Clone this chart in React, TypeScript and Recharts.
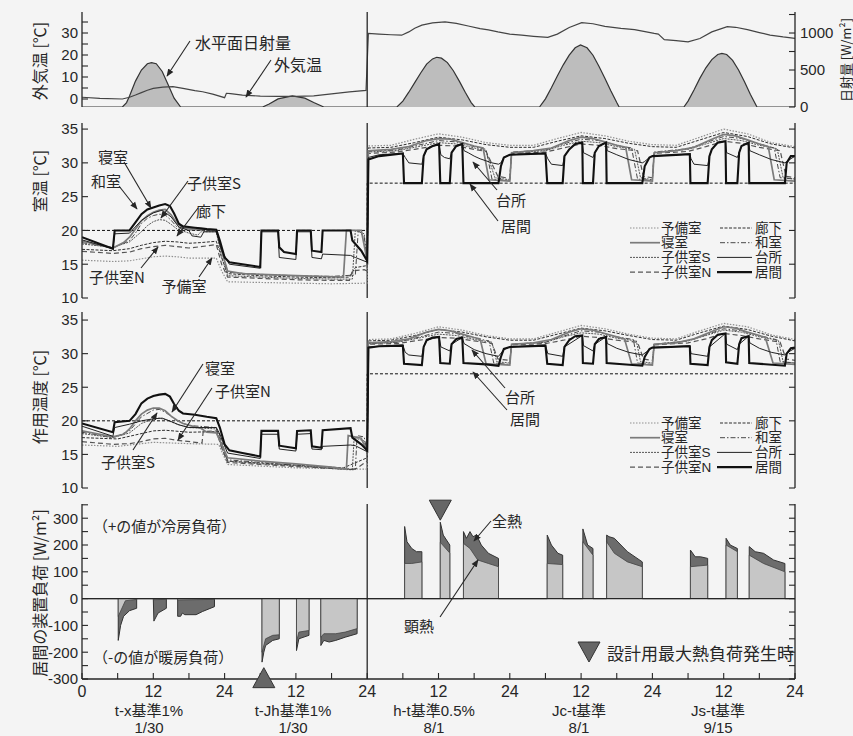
import React from 'react';
import { ComposedChart, Line, Area, XAxis, YAxis, ReferenceLine, ReferenceDot } from 'recharts';

type Pt = [number, number];

// ---------- axis ticks & labels ----------
const hourTicks = [0, 6, 12, 18, 24, 30, 36, 42, 48, 54, 60, 66, 72, 78, 84, 90, 96, 102, 108, 114, 120];
const hourTickLabels = ['0', '', '12', '', '24', '', '12', '', '24', '', '12', '', '24', '', '12', '', '24', '', '12', '', '24'];
const dayNames = ['t-x基準1%', 't-Jh基準1%', 'h-t基準0.5%', 'Jc-t基準', 'Js-t基準'];
const dayDates = ['1/30', '1/30', '8/1', '8/1', '9/15'];

const p1TempTicks = [0, 5, 10, 15, 20, 25, 30, 35];
const p1TempLabels = ['0', '', '10', '', '20', '', '30', ''];
const p1SolarTicks = [0, 250, 500, 750, 1000, 1250];
const p1SolarLabels = ['0', '', '500', '', '1000', ''];
const roomTicks = [10, 15, 20, 25, 30, 35];
const roomTickLabels = ['10', '15', '20', '25', '30', '35'];
const loadTicks = [-300, -250, -200, -150, -100, -50, 0, 50, 100, 150, 200, 250, 300, 350];
const loadTickLabels = ['-300', '', '-200', '', '-100', '', '0', '', '100', '', '200', '', '300', ''];

// ---------- panel 1 : outdoor temperature [°C] and horizontal solar radiation [W/m2] ----------
const outdoorTemp: Pt[] = [[0, 0.8], [3, 0.3], [6.8, 0.0], [8, 0.8], [9, 1.8], [10, 2.9], [11, 4], [12, 4.8], [13.6, 5.4], [15.3, 5.6], [17, 4.8], [19, 3.8], [20.3, 3.3], [22, 2.2], [24, 0.6], [24.3, 2.6], [25, 2.4], [27, 1.8], [30, 1.3], [33, 1.2], [36, 1.2], [39, 1.4], [42, 2.3], [45, 3.2], [47.8, 3.9],
  [48.2, 29.8], [50, 29.5], [52, 29.2], [53.8, 29], [55, 30.5], [56, 32.2], [57.2, 33.6], [59, 34.6], [61.1, 35.1], [63, 34.4], [65, 33.2], [67, 32], [68.4, 31.4], [70, 30.5], [72, 29.5], [74, 29], [76, 28.5], [78.4, 28], [80, 29.5], [82, 32.5], [84.1, 34.7], [86, 34.2], [88, 33], [90.7, 32.1], [93, 31.5], [96.3, 29.8], [97, 29.5], [98, 27], [100, 26.5], [102, 26], [104, 27.5], [106, 30.5], [108.6, 32.9], [110, 32.6], [112, 31.5], [114, 30.2], [115.8, 29], [118, 28.2], [120, 27.6]];
const solarRad: Pt[] = [[0, 0], [6.8, 0], [7.5, 60], [8, 150], [9, 350], [10, 500], [11, 585], [11.7, 600], [12.5, 585], [13.5, 480], [14.5, 300], [15.5, 120], [16.6, 0],
  [30.4, 0], [31.5, 40], [33, 110], [35.4, 150], [37.5, 120], [39, 60], [40.7, 0],
  [53, 0], [54, 80], [55, 200], [56, 330], [57, 460], [58, 580], [59, 650], [59.7, 672], [60.5, 660], [61.5, 600], [62.5, 490], [63.5, 350], [64.5, 200], [65.5, 60], [66.1, 0],
  [77, 0], [78, 110], [79, 260], [80, 420], [81, 570], [82, 700], [83, 800], [83.9, 838], [85, 800], [86, 700], [87, 550], [88, 390], [89, 220], [90, 60], [90.4, 0],
  [101.3, 0], [102, 80], [103, 230], [104, 390], [105, 530], [106, 640], [107, 710], [107.7, 725], [108.5, 710], [109.5, 630], [110.5, 500], [111.5, 340], [112.5, 170], [113.6, 0], [120, 0]];

// ---------- panel 2 : room air temperature [°C] ----------
const setPoint: Pt[] = [[0, 20], [48, 20], [48, 27], [120, 27]];
const airIma: Pt[] = [[0, 19.0], [5.2, 17.3], [5.5, 20], [8, 20], [9, 21.2], [10, 22.4], [11, 23.1], [12, 23.4], [13, 23.7], [14, 23.9], [14.8, 23.6], [15.5, 22.5], [16.3, 21], [17, 20.6], [18, 20.5], [19, 20.4], [20, 20.3], [21, 20.2], [22.6, 20.1], [23.2, 18.5], [24, 16], [24.8, 15.3], [27, 15], [30, 14.6], [30.2, 20], [33, 20], [33.2, 17.5], [34, 16.8], [36, 16.5], [36.2, 20], [38.5, 20], [38.7, 17], [40.3, 16.8], [40.5, 20], [45.2, 20], [45.5, 18.5], [47, 17], [48, 15.5],
  [48.2, 30.5], [50, 31], [54, 31.4], [54.2, 27], [57.2, 27], [57.5, 31], [58, 32], [59, 32.5], [60.1, 32.8], [60.3, 27], [61.9, 27], [62.2, 31.5], [63, 32.5], [64, 32.8], [64.2, 27], [70.1, 27], [70.5, 29.5], [71, 30.8], [72, 31.2], [78, 31.4], [78.3, 27], [80.9, 27], [81.2, 31], [82, 32], [83, 32.8], [84.2, 33], [84.3, 27], [86, 27], [86.3, 31.5], [87, 32.5], [88.2, 33], [88.3, 27], [94.3, 27], [94.7, 29.5], [95.5, 30.8], [96, 31], [102.3, 31.3], [102.4, 27], [105.3, 27], [105.6, 31], [106, 32], [107, 33], [108.3, 33.2], [108.4, 27], [110.3, 27], [110.6, 31.5], [111, 32.5], [112.2, 33], [112.3, 27], [118.3, 27], [118.6, 30], [119.3, 31], [120, 31]];
const airDai: Pt[] = [[0, 18.6], [5.2, 17.3], [5.5, 19.5], [8, 19.6], [10, 21.5], [12, 22.6], [13.5, 23], [15, 22], [16.3, 20.5], [18, 20], [18.5, 19.2], [20, 19], [20.5, 19.8], [22.6, 19.8], [23.5, 17], [24.8, 15], [30, 14.4], [30.2, 19.8], [33, 19.8], [33.2, 16], [36, 15.7], [36.2, 19.8], [38.5, 19.8], [38.7, 16], [40.3, 15.8], [40.5, 16.5], [45.2, 16.3], [46, 16], [48, 15.3],
  [48.2, 30.8], [50, 31.2], [54, 31.4], [54.4, 30.8], [55, 30], [57.2, 29.8], [57.5, 31], [58, 32], [59, 32.5], [60.1, 32.6], [60.4, 31.2], [61, 30.8], [61.9, 30.6], [62.2, 31.5], [63, 32.5], [64, 32.8], [64.3, 31.8], [65, 31.5], [66, 31], [67, 30.6], [68, 30.3], [69, 30], [70.1, 29.8], [70.5, 30], [71, 30.8], [72, 31.2], [78, 31.4], [78.4, 30.6], [79, 29.8], [80.9, 29.6], [81.2, 31], [82, 32], [83, 32.8], [84.2, 33], [84.4, 31.5], [86, 30.8], [86.3, 31.5], [87, 32.5], [88.2, 33], [88.4, 31.8], [90, 31.2], [92, 30.5], [94.3, 30], [94.7, 30.2], [95.5, 30.8], [96, 31], [102.3, 31.3], [102.5, 30.6], [103, 29.8], [105.3, 29.6], [105.6, 31], [106, 32], [107, 33], [108.3, 33.2], [108.5, 31.5], [110.3, 30.8], [110.6, 31.5], [111, 32.5], [112.2, 33], [112.4, 31.8], [114, 31.2], [116, 30.5], [118.3, 30], [118.6, 30.2], [120, 31]];
const airShin: Pt[] = [[0, 18.4], [5.2, 17.4], [7, 18.2], [8, 19], [9, 20.2], [10, 21.4], [11, 22.2], [12, 22.7], [13, 23], [14, 23.1], [15, 22.3], [16, 21], [17, 20.4], [19, 20.2], [22.6, 20.1], [23.5, 17], [24.5, 14], [27, 13.6], [36, 13.3], [44, 13.1], [44.5, 20], [47, 20], [48, 15.5],
  [48.2, 31.8], [52, 32], [55, 32.4], [58, 33.3], [60, 33.6], [62, 33.5], [64, 33], [66, 32.5], [67.5, 32.2], [68.5, 27.5], [72, 27.3], [72.3, 31.5], [76, 31.8], [79, 32.2], [82, 33.3], [84, 33.8], [86, 33.6], [88, 33.1], [90, 32.6], [91.5, 32.3], [92.5, 27.5], [96, 27.3], [96.3, 31.5], [100, 31.8], [103, 32.3], [106, 33.5], [108, 34.2], [110, 34], [112, 33.4], [114, 32.8], [115.5, 32.4], [116.5, 27.5], [120, 27.3]];
const airWa: Pt[] = [[0, 18.2], [5.2, 17.4], [8, 18.5], [9, 19.6], [10, 21], [11, 21.8], [12, 22.2], [13, 22.4], [14, 22.3], [15, 21.5], [16, 20.5], [17, 20.1], [22.6, 20], [23.5, 17], [24.5, 13.8], [30, 13.5], [36, 13.3], [42, 13.2], [46, 13.4], [46.5, 20], [47.5, 19], [48, 15.2],
  [48.2, 31.7], [53, 31.9], [56, 32.5], [60, 33.3], [63, 33.1], [66, 32.4], [68, 32], [69, 27.6], [72, 27.4], [72.3, 31.6], [78, 31.9], [81, 32.8], [84, 33.5], [87, 33.3], [90, 32.6], [92.5, 32.2], [93.5, 27.6], [96, 27.4], [96.3, 31.6], [102, 32.1], [105, 33], [108, 33.9], [111, 33.6], [114, 32.8], [116.5, 32.2], [117.5, 27.8], [120, 27.6]];
const airKS: Pt[] = [[0, 18], [5.2, 17.5], [8, 18.3], [10, 19.8], [11, 20.7], [12, 21.3], [13, 21.6], [14, 21.5], [15, 20.9], [16, 20.2], [18, 19.6], [19.5, 19.3], [20, 19.8], [22.6, 19.8], [23.5, 16], [24.5, 13.3], [30, 13.1], [36, 12.9], [42, 12.8], [45.5, 12.8], [46, 20], [47.5, 19.5], [48, 15],
  [48.2, 31.6], [53, 31.8], [56, 32.3], [60, 33], [63, 32.8], [66, 32.2], [68, 31.8], [69.5, 27.8], [72, 27.5], [72.3, 31.5], [78, 31.8], [81, 32.6], [84, 33.2], [87, 33], [90, 32.4], [93, 32], [94, 27.8], [96, 27.5], [96.3, 31.5], [102, 32], [105, 32.8], [108, 33.6], [111, 33.3], [114, 32.6], [117, 32.1], [118, 27.8], [120, 27.6]];
const airKN: Pt[] = [[0, 16.9], [5.2, 16.6], [8, 16.8], [10, 17.3], [12, 17.6], [14, 17.8], [16, 17.6], [18, 17.4], [20, 17.6], [22.6, 17.9], [23.5, 15], [24.5, 13.1], [30, 12.9], [36, 12.7], [42, 12.6], [45, 12.6], [45.5, 14], [47.5, 14.2], [48, 14],
  [48.2, 31.4], [53, 31.6], [56, 32], [60, 32.6], [63, 32.5], [66, 32], [68, 31.7], [70, 28], [72, 27.7], [72.3, 31.4], [78, 31.6], [81, 32.2], [84, 32.8], [87, 32.6], [90, 32.1], [93.5, 31.8], [94.5, 28], [96, 27.8], [96.3, 31.4], [102, 31.7], [105, 32.4], [108, 33.2], [111, 32.9], [114, 32.3], [117.5, 31.8], [118.5, 28], [120, 27.8]];
const airYobi: Pt[] = [[0, 15.6], [5.2, 15.4], [8, 15.5], [10, 15.8], [12, 16.1], [14, 16.2], [16, 16.1], [18, 15.9], [22.6, 15.9], [23.5, 14], [24.5, 12.4], [30, 12.3], [36, 12.2], [42, 12.1], [48, 12.2],
  [48.2, 32.5], [52, 32.6], [56, 33.5], [60, 34.3], [64, 33.8], [68, 33], [72, 32.6], [76, 32.6], [80, 33.6], [84, 34.5], [88, 34], [92, 33.2], [96, 32.7], [100, 32.6], [104, 33.8], [108, 35], [112, 34.3], [116, 33], [120, 32.4]];
const airRouka: Pt[] = [[0, 17.2], [5.2, 17], [8, 17.3], [10, 17.8], [12, 18.2], [14, 18.4], [16, 18.3], [18, 18.1], [20, 18.2], [22.6, 18.4], [23.5, 16], [24.5, 13.6], [30, 13.3], [36, 13.1], [42, 13], [45, 13.1], [46, 14.5], [48, 14.8],
  [48.2, 32.2], [52, 32.3], [56, 33], [60, 33.8], [64, 33.4], [68, 32.7], [72, 32.3], [76, 32.3], [80, 33.2], [84, 34], [88, 33.6], [92, 32.9], [96, 32.4], [100, 32.3], [104, 33.4], [108, 34.5], [112, 33.9], [116, 32.8], [120, 32.2]];

// ---------- panel 3 : operative temperature [°C] ----------
const opIma: Pt[] = [[0, 19.6], [5.2, 18.3], [5.5, 19.8], [8, 20], [9, 21], [10, 22.6], [11, 23.3], [12, 23.7], [13, 23.9], [14, 24], [14.8, 23.6], [15.5, 22.5], [16.3, 21.5], [17, 21.1], [19, 20.9], [21, 20.6], [22.6, 20.4], [23.2, 19], [24, 16.5], [24.8, 15.6], [27, 15.2], [30, 14.7], [30.2, 18.5], [33, 18.5], [33.2, 16.3], [36, 15.9], [36.2, 18.5], [38.5, 18.6], [38.7, 16.2], [40.3, 16], [40.5, 18.6], [45.2, 18.9], [45.5, 17.5], [47, 16.5], [48, 15.6],
  [48.2, 30.9], [50, 31.1], [54, 31.2], [54.2, 28.5], [57.2, 28.3], [57.5, 31], [58, 32], [59, 32.4], [60.1, 32.5], [60.3, 28.6], [61.9, 28.5], [62.2, 31.4], [63, 32.2], [64, 32.4], [64.2, 28.6], [68, 28.4], [70.1, 28.2], [70.5, 29.5], [71, 30.7], [72, 31], [78, 31.2], [78.3, 28.5], [80.9, 28.3], [81.2, 31], [82, 32], [83, 32.6], [84.2, 32.7], [84.3, 28.6], [86, 28.5], [86.3, 31.4], [87, 32.2], [88.2, 32.5], [88.3, 28.6], [94.3, 28.2], [94.7, 29.5], [95.5, 30.7], [96, 30.9], [102.3, 31.1], [102.4, 28.5], [105.3, 28.3], [105.6, 31], [106, 32], [107, 32.8], [108.3, 33], [108.4, 28.7], [110.3, 28.5], [110.6, 31.4], [111, 32.3], [112.2, 32.6], [112.3, 28.6], [118.3, 28.2], [118.6, 30], [119.3, 30.8], [120, 30.9]];
const opDai: Pt[] = [[0, 19.2], [5.2, 17.7], [5.5, 19], [8, 19.5], [10, 20], [12, 20.3], [13.5, 20.4], [15, 19.9], [16.3, 19.4], [18, 19], [22.6, 19], [23.2, 18], [24.5, 15.2], [30, 14.4], [30.2, 18], [33, 18], [33.2, 15.8], [36, 15.5], [36.2, 18], [38.5, 18.1], [38.7, 15.8], [40.3, 15.7], [40.5, 16.2], [45.2, 16.4], [46, 16.3], [48, 15.4],
  [48.2, 31], [54, 31.3], [54.4, 30.2], [55, 29.8], [57.2, 29.6], [57.5, 31], [58, 32], [60.1, 32.5], [60.4, 31], [61.9, 30.4], [62.2, 31.4], [64, 32.4], [64.3, 31.5], [66, 30.6], [68, 30], [70.1, 29.6], [71, 30.6], [72, 31], [78, 31.3], [78.4, 30], [80.9, 29.6], [81.2, 31], [84.2, 32.7], [84.4, 31.2], [86, 30.4], [86.3, 31.4], [88.2, 32.5], [88.4, 31.5], [90, 30.8], [92, 30.2], [94.3, 29.8], [95.5, 30.6], [96, 30.9], [102.3, 31.2], [102.5, 30], [105.3, 29.6], [105.6, 31], [108.3, 33], [108.5, 31.4], [110.3, 30.6], [110.6, 31.4], [112.2, 32.6], [112.4, 31.6], [114, 30.8], [116, 30.2], [118.3, 29.8], [118.6, 30.1], [120, 30.8]];
const opShin: Pt[] = [[0, 18.5], [5.2, 17.6], [7, 18], [8, 18.8], [9, 20], [10, 21], [11, 21.6], [12, 21.9], [13, 21.9], [14, 21.5], [15, 20.7], [16, 20.1], [17, 19.6], [19, 19.1], [20, 18.9], [21, 18.3], [22.6, 18.2], [23.5, 16.5], [24.5, 14.5], [30, 14], [36, 13.6], [42, 13.1], [44.5, 12.8], [44.8, 17.8], [47, 17.4], [48, 15.3],
  [48.2, 31.6], [52, 31.8], [55, 32.2], [58, 33.2], [60, 33.6], [62, 33.4], [64, 32.9], [66, 32.4], [67, 32.2], [68, 28.5], [72, 28.3], [72.3, 31.4], [76, 31.6], [79, 32.1], [82, 33.2], [84, 33.7], [86, 33.5], [88, 33], [90, 32.5], [91.3, 32.2], [92.5, 28.5], [96, 28.3], [96.3, 31.4], [100, 31.6], [103, 32.2], [106, 33.3], [108, 34], [110, 33.8], [112, 33.2], [114, 32.7], [115, 32.4], [116.3, 28.6], [120, 28.4]];
const opWa: Pt[] = [[0, 18.3], [5.2, 17.5], [8, 18.5], [10, 20.6], [12, 21.6], [13, 21.7], [14, 21.3], [16, 20], [18, 19.3], [22.6, 19], [23.5, 16.5], [24.5, 14.2], [30, 13.8], [36, 13.4], [42, 13], [46, 12.7], [46.3, 17.8], [47.5, 17.6], [48, 15.2],
  [48.2, 31.5], [53, 31.7], [56, 32.3], [60, 33.2], [63, 33], [66, 32.3], [68.5, 31.9], [69.3, 28.6], [72, 28.4], [72.3, 31.4], [78, 31.7], [81, 32.6], [84, 33.4], [87, 33.2], [90, 32.5], [92.8, 32.1], [93.5, 28.6], [96, 28.4], [96.3, 31.4], [102, 31.9], [105, 32.8], [108, 33.7], [111, 33.4], [114, 32.7], [116.8, 32.1], [117.5, 28.8], [120, 28.6]];
const opKS: Pt[] = [[0, 18.1], [5.2, 17.5], [8, 18.2], [10, 19.6], [12, 20.3], [13, 20.4], [14, 20.2], [16, 19.5], [18, 19], [22.6, 18.8], [23.5, 16], [24.5, 14], [30, 13.6], [36, 13.3], [42, 12.9], [45.5, 12.7], [45.8, 17.5], [47.5, 17], [48, 15],
  [48.2, 31.5], [53, 31.7], [56, 32.2], [60, 32.9], [63, 32.7], [66, 32.1], [69, 31.7], [69.8, 28.8], [72, 28.6], [72.3, 31.4], [78, 31.7], [81, 32.5], [84, 33.1], [87, 32.9], [90, 32.3], [93.3, 31.9], [94, 28.8], [96, 28.6], [96.3, 31.4], [102, 31.9], [105, 32.7], [108, 33.5], [111, 33.2], [114, 32.5], [117.2, 32], [118, 28.8], [120, 28.6]];
const opKN: Pt[] = [[0, 16.9], [5.2, 16.5], [8, 16.6], [10, 16.9], [12, 17.3], [14, 17.4], [16, 17.1], [20.2, 16.7], [20.4, 18.4], [22.6, 18.5], [23.5, 16], [24.5, 13.8], [30, 13.5], [36, 13.2], [42, 12.9], [46, 12.8], [48, 14],
  [48.2, 31.4], [53, 31.5], [56, 31.9], [60, 32.4], [63, 32.3], [66, 31.9], [69, 31.5], [70, 29.2], [72, 29], [72.3, 31.3], [78, 31.5], [81, 32], [84, 32.6], [87, 32.4], [90, 32], [93.5, 31.7], [94.5, 29.2], [96, 29], [96.3, 31.3], [102, 31.6], [105, 32.2], [108, 33], [111, 32.7], [114, 32.2], [117.5, 31.7], [118.5, 29.2], [120, 29]];
const opYobi: Pt[] = [[0, 16.4], [6, 16.2], [12, 16.8], [18, 16.6], [23, 16.5], [24.5, 13.5], [36, 13], [48, 12.8],
  [48.2, 32.1], [52, 32.2], [56, 33], [60, 34], [64, 33.5], [68, 32.7], [72, 32.2], [76, 32.2], [80, 33.2], [84, 34.2], [88, 33.7], [92, 32.9], [96, 32.3], [100, 32.2], [104, 33.4], [108, 34.5], [112, 34], [116, 32.8], [120, 32.1]];
const opRouka: Pt[] = [[0, 17.5], [6, 17.3], [12, 18.5], [14, 18.6], [18, 18.3], [23, 18.4], [24.5, 14], [36, 13.4], [44, 13], [48, 14.5],
  [48.2, 31.9], [52, 32], [56, 32.7], [60, 33.6], [64, 33.2], [68, 32.5], [72, 32], [76, 32], [80, 32.9], [84, 33.8], [88, 33.4], [92, 32.7], [96, 32.1], [100, 32], [104, 33.1], [108, 34.1], [112, 33.6], [116, 32.6], [120, 31.9]];

// ---------- panel 4 : living room equipment load [W/m2] ----------
const loadTotal: Pt[] = [[0, 0], [6.1, 0], [6.1, -156], [6.5, -100], [7, -66], [8, -45], [9.2, -36], [9.2, 0], [12, 0], [12.1, -84], [12.8, -54], [14.2, -36], [14.2, 0], [16.1, 0], [16.1, -66], [16.6, -66], [16.9, -54], [17.3, -60], [19.2, -60], [20.3, -48], [22.3, -30], [22.3, 0],
  [30.3, 0], [30.3, -237], [30.6, -200], [30.9, -175], [32.1, -156], [33.2, -150], [33.2, 0], [36.1, 0], [36.1, -194], [36.5, -150], [38.2, -137], [38.2, 0], [40.2, 0], [40.2, -175], [40.7, -156], [41.6, -162], [42.7, -156], [44.3, -144], [46.3, -131], [46.3, 0],
  [54.3, 0], [54.3, 269], [54.7, 212], [55.5, 187], [56.3, 175], [57.2, 175], [57.2, 0], [60.3, 0], [60.3, 285], [60.8, 237], [61.9, 200], [61.9, 0], [64.2, 0], [64.2, 250], [64.7, 225], [65.3, 250], [65.8, 231], [66.4, 237], [67.2, 200], [68.4, 169], [70.1, 150], [70.1, 0],
  [78.3, 0], [78.3, 237], [79, 200], [80.1, 169], [80.9, 162], [80.9, 0], [84.3, 0], [84.3, 260], [85.1, 200], [86, 187], [86, 0], [88.3, 0], [88.3, 237], [88.7, 231], [89.6, 225], [90.7, 200], [91.8, 175], [94.3, 137], [94.3, 0],
  [102.4, 0], [102.4, 181], [103.2, 156], [104.1, 156], [105.3, 150], [105.3, 0], [108.4, 0], [108.4, 225], [109.1, 200], [110.3, 187], [110.3, 0], [112.3, 0], [112.3, 194], [113.3, 175], [114.7, 169], [116.4, 144], [118.3, 131], [118.3, 0], [120, 0]];
const loadSensible: Pt[] = [[0, 0], [6.1, 0], [6.1, -66], [7.3, -8], [9.2, -3], [9.2, 0], [12, 0], [12.1, -4], [14.2, -3], [14.2, 0], [16.1, 0], [16.1, -5], [22.3, -3], [22.3, 0],
  [30.3, 0], [30.3, -200], [30.9, -150], [32.1, -137], [33.2, -135], [33.2, 0], [36.1, 0], [36.1, -162], [36.5, -125], [38.2, -119], [38.2, 0], [40.2, 0], [40.2, -144], [40.7, -131], [42.7, -131], [44.3, -125], [46.3, -112], [46.3, 0],
  [54.3, 0], [54.3, 131], [55.5, 131], [57.2, 137], [57.2, 0], [60.3, 0], [60.3, 210], [61.9, 170], [61.9, 0], [64.2, 0], [64.2, 206], [65.3, 187], [66.6, 144], [68.4, 131], [70.1, 119], [70.1, 0],
  [78.3, 0], [78.3, 131], [80.9, 127], [80.9, 0], [84.3, 0], [84.3, 212], [86, 162], [86, 0], [88.3, 0], [88.3, 212], [89.6, 169], [91.8, 137], [94.3, 119], [94.3, 0],
  [102.4, 0], [102.4, 119], [105.3, 125], [105.3, 0], [108.4, 0], [108.4, 200], [110.3, 175], [110.3, 0], [112.3, 0], [112.3, 162], [114.7, 131], [118.3, 100], [118.3, 0], [120, 0]];
const peakCooling: Pt = [60.3, 330];
const peakHeating: Pt = [30.6, -295];

// ---------- styles ----------
const INK = '#262626';
const FONT_NUM = "'Liberation Sans', Arial, sans-serif";
const FONT_JP = "'Noto Sans CJK JP', 'Noto Sans', sans-serif";
const FONT_MIX = "'Liberation Sans', 'Noto Sans CJK JP', sans-serif";

type Sty = { name: string; stroke: string; width: number; dash?: string };
const S: Record<string, Sty> = {
  yobi: { name: '予備室', stroke: '#8f8f8f', width: 1.2, dash: '1.5 1.5' },
  rouka: { name: '廊下', stroke: '#2e2e2e', width: 1, dash: '3 1.5' },
  shin: { name: '寝室', stroke: '#7b7b7b', width: 1.7 },
  wa: { name: '和室', stroke: '#484848', width: 1, dash: '5 2 1.5 2' },
  kS: { name: '子供室S', stroke: '#555555', width: 1, dash: '2 1' },
  kN: { name: '子供室N', stroke: '#555555', width: 1.2, dash: '5 3' },
  dai: { name: '台所', stroke: '#222222', width: 1 },
  ima: { name: '居間', stroke: '#111111', width: 2.1 },
};
const legendRows: [Sty, Sty][] = [[S.yobi, S.rouka], [S.shin, S.wa], [S.kS, S.dai], [S.kN, S.ima]];

const airSeries: [Sty, Pt[]][] = [[S.yobi, airYobi], [S.rouka, airRouka], [S.kN, airKN], [S.kS, airKS], [S.wa, airWa], [S.shin, airShin], [S.dai, airDai], [S.ima, airIma]];
const opSeries: [Sty, Pt[]][] = [[S.yobi, opYobi], [S.rouka, opRouka], [S.kN, opKN], [S.kS, opKS], [S.wa, opWa], [S.shin, opShin], [S.dai, opDai], [S.ima, opIma]];

const rows = (pts: Pt[]) => pts.map(([h, v]) => ({ h, v }));

interface AxisCfg {
  yDomain: [number, number]; yTicks: number[]; yLabels: string[];
  rDomain: [number, number]; rTicks: number[]; rLabels: string[];
  xLabels: boolean;
}
function axes(c: AxisCfg) {
  const line = { stroke: INK, strokeWidth: 1.3 };
  const tl = { stroke: INK, strokeWidth: 1.1 };
  const tickStyle = { fontSize: 15, fill: INK, fontFamily: FONT_NUM };
  return [
    <XAxis key="xb" xAxisId="b" type="number" dataKey="h" domain={[0, 120]} allowDataOverflow ticks={hourTicks} interval={0}
      height={c.xLabels ? 40 : 0} tickSize={-6} tickMargin={13}
      tick={{ fontSize: 16, fill: INK, fontFamily: FONT_NUM }}
      tickFormatter={(v: number) => (c.xLabels ? hourTickLabels[hourTicks.indexOf(v)] ?? '' : '')}
      axisLine={line} tickLine={tl} />,
    <XAxis key="xt" xAxisId="t" orientation="top" type="number" dataKey="h" domain={[0, 120]} allowDataOverflow ticks={hourTicks} interval={0}
      height={0} tickSize={-6} tickFormatter={() => ''} axisLine={line} tickLine={tl} />,
    <YAxis key="yl" yAxisId="l" type="number" domain={c.yDomain} allowDataOverflow ticks={c.yTicks} interval={0}
      width={82} tickSize={-6} tickMargin={10} tick={tickStyle}
      tickFormatter={(v: number) => c.yLabels[c.yTicks.indexOf(v)] ?? ''} axisLine={line} tickLine={tl} />,
    <YAxis key="yr" yAxisId="r" orientation="right" type="number" domain={c.rDomain} allowDataOverflow ticks={c.rTicks} interval={0}
      width={58} tickSize={-6} tickMargin={11} tick={tickStyle}
      tickFormatter={(v: number) => c.rLabels[c.rTicks.indexOf(v)] ?? ''} axisLine={line} tickLine={tl} />,
  ];
}

function roomLines(series: [Sty, Pt[]][]) {
  return series.map(([s, pts]) => (
    <Line key={s.name} data={rows(pts)} dataKey="v" xAxisId="b" yAxisId="l" type="linear" dot={false} activeDot={false}
      stroke={s.stroke} strokeWidth={s.width} strokeDasharray={s.dash} isAnimationActive={false} />
  ));
}
function commonRefs(withSet: boolean) {
  const out: any[] = [<ReferenceLine key="div" x={48} xAxisId="b" yAxisId="l" stroke={INK} strokeWidth={1.3} />];
  if (withSet) out.push(
    <Line key="set" data={rows(setPoint)} dataKey="v" xAxisId="b" yAxisId="l" type="linear" dot={false} activeDot={false}
      stroke="#111" strokeWidth={1} strokeDasharray="3 2" isAnimationActive={false} />);
  return out;
}

const W = 853;
const M = { top: 10, bottom: 10, left: 0, right: 0 };
const box = (top: number): React.CSSProperties => ({ position: 'absolute', left: 0, top });

type Note = { t: string; x: number; y: number; a?: [number, number, number, number]; anchor?: 'start' | 'middle' | 'end'; fs?: number };
const notes: Note[] = [
  { t: '水平面日射量', x: 243, y: 42, a: [190, 41, 167, 76], fs: 16 },
  { t: '外気温', x: 298, y: 64, a: [271, 60, 246, 97], fs: 16 },
  { t: '寝室', x: 113, y: 156, a: [124, 162, 151, 208] },
  { t: '和室', x: 106, y: 180, a: [119, 186, 137, 209] },
  { t: '子供室S', x: 214, y: 182, a: [188, 181, 161, 218] },
  { t: '廊下', x: 211, y: 210, a: [198, 208, 177, 236] },
  { t: '子供室N', x: 117, y: 276, a: [141, 268, 158, 247] },
  { t: '予備室', x: 184, y: 285, a: [199, 277, 212, 258] },
  { t: '台所', x: 511, y: 199, a: [497, 190, 473, 162] },
  { t: '居間', x: 516, y: 225, a: [498, 221, 470, 184] },
  { t: '寝室', x: 220, y: 367, a: [203, 364, 172, 412] },
  { t: '子供室N', x: 243, y: 390, a: [212, 388, 178, 440] },
  { t: '子供室S', x: 128, y: 461, a: [133, 450, 157, 413] },
  { t: '台所', x: 520, y: 396, a: [505, 388, 472, 350] },
  { t: '居間', x: 525, y: 418, a: [507, 410, 473, 372] },
  { t: '（+の値が冷房負荷）', x: 93, y: 525, anchor: 'start', fs: 15 },
  { t: '（-の値が暖房負荷）', x: 93, y: 656, anchor: 'start', fs: 15 },
  { t: '全熱', x: 507, y: 520, a: [491, 521, 474, 541] },
  { t: '顕熱', x: 419, y: 625, a: [440, 617, 478, 560] },
  { t: '設計用最大熱負荷発生時', x: 607, y: 652, anchor: 'start', fs: 17 },
];
const axisTitles: { t: string; x: number; y: number; fs: number }[] = [
  { t: '外気温 [℃]', x: 39, y: 61, fs: 16 },
  { t: '室温 [℃]', x: 39, y: 181, fs: 16 },
  { t: '作用温度 [℃]', x: 39, y: 397, fs: 16 },
  { t: '居間の装置負荷 [W/m²]', x: 39, y: 593, fs: 16 },
  { t: '日射量 [W/m²]', x: 845, y: 60, fs: 13 },
];
const captionX = [149, 293, 434, 579, 718];

function Legend({ y0 }: { y0: number }) {
  return (
    <g>
      {legendRows.map((r, i) => {
        const y = y0 + i * 14.7;
        const x2s = i >= 2 ? 717 : 720;
        return (
          <g key={i}>
            <line x1={630} x2={660} y1={y} y2={y} stroke={r[0].stroke} strokeWidth={r[0].width} strokeDasharray={r[0].dash} />
            <text x={661} y={y} fontSize={13.5} fontFamily={FONT_MIX} fill={INK} dominantBaseline="central">{r[0].name}</text>
            <line x1={x2s} x2={752} y1={y} y2={y} stroke={r[1].stroke} strokeWidth={r[1].width} strokeDasharray={r[1].dash} />
            <text x={782} y={y} fontSize={13.5} fontFamily={FONT_MIX} fill={INK} textAnchor="end" dominantBaseline="central">{r[1].name}</text>
          </g>
        );
      })}
    </g>
  );
}

const downTri = (p: any) => (
  <polygon points={`${p.cx - 11},${p.cy - 10} ${p.cx + 11},${p.cy - 10} ${p.cx},${p.cy + 10}`} fill="#666" stroke="#333" strokeWidth={1} />
);
const upTri = (p: any) => (
  <polygon points={`${p.cx - 11},${p.cy + 10} ${p.cx + 11},${p.cy + 10} ${p.cx},${p.cy - 10}`} fill="#666" stroke="#333" strokeWidth={1} />
);

export default function App() {
  return (
    <div style={{ position: 'absolute', left: 0, top: 0, width: W, height: 736, background: '#f4f4f4', overflow: 'hidden' }}>
      {/* Panel 1 */}
      <div style={box(2)}>
        <ComposedChart width={W} height={115} margin={M}>
          {axes({ yDomain: [-3.64, 39.55], yTicks: p1TempTicks, yLabels: p1TempLabels, rDomain: [0, 1284], rTicks: p1SolarTicks, rLabels: p1SolarLabels, xLabels: false })}
          <Area data={rows(solarRad)} dataKey="v" xAxisId="b" yAxisId="r" type="linear" baseValue={0} fill="#bdbdbd" fillOpacity={1} stroke="#333" strokeWidth={1.2} dot={false} activeDot={false} isAnimationActive={false} />
          <Line data={rows(outdoorTemp)} dataKey="v" xAxisId="b" yAxisId="l" type="linear" dot={false} activeDot={false} stroke="#444" strokeWidth={1.2} isAnimationActive={false} />
          {commonRefs(false)}
        </ComposedChart>
      </div>
      {/* Panel 2 */}
      <div style={box(113)}>
        <ComposedChart width={W} height={195} margin={M}>
          {axes({ yDomain: [10, 35.9], yTicks: roomTicks, yLabels: roomTickLabels, rDomain: [10, 35.9], rTicks: roomTicks, rLabels: [], xLabels: false })}
          {commonRefs(true)}
          {roomLines(airSeries)}
        </ComposedChart>
      </div>
      {/* Panel 3 */}
      <div style={box(302)}>
        <ComposedChart width={W} height={196} margin={M}>
          {axes({ yDomain: [10, 36.2], yTicks: roomTicks, yLabels: roomTickLabels, rDomain: [10, 36.2], rTicks: roomTicks, rLabels: [], xLabels: false })}
          {commonRefs(true)}
          {roomLines(opSeries)}
        </ComposedChart>
      </div>
      {/* Panel 4 */}
      <div style={box(494)}>
        <ComposedChart width={W} height={235} margin={M}>
          {axes({ yDomain: [-300, 353], yTicks: loadTicks, yLabels: loadTickLabels, rDomain: [-300, 353], rTicks: loadTicks, rLabels: [], xLabels: true })}
          <Area data={rows(loadTotal)} dataKey="v" xAxisId="b" yAxisId="l" type="linear" baseValue={0} fill="#6c6c6c" fillOpacity={1} stroke="#333" strokeWidth={1} dot={false} activeDot={false} isAnimationActive={false} />
          <Area data={rows(loadSensible)} dataKey="v" xAxisId="b" yAxisId="l" type="linear" baseValue={0} fill="#c6c6c6" fillOpacity={1} stroke="#444" strokeWidth={0.8} dot={false} activeDot={false} isAnimationActive={false} />
          <ReferenceLine y={0} xAxisId="b" yAxisId="l" stroke={INK} strokeWidth={1.2} />
          {commonRefs(false)}
          <ReferenceDot x={peakCooling[0]} y={peakCooling[1]} xAxisId="b" yAxisId="l" r={10} shape={downTri} />
          <ReferenceDot x={peakHeating[0]} y={peakHeating[1]} xAxisId="b" yAxisId="l" r={10} shape={upTri} />
        </ComposedChart>
      </div>
      {/* Overlay: titles, annotations, legends, captions */}
      <svg width={W} height={736} style={{ position: 'absolute', left: 0, top: 0, pointerEvents: 'none' }}>
        <defs>
          <marker id="ah" viewBox="0 0 10 10" refX="9" refY="5" markerWidth="7" markerHeight="7" orient="auto-start-reverse">
            <path d="M0,1 L10,5 L0,9 z" fill={INK} />
          </marker>
        </defs>
        {axisTitles.map((a, i) => (
          <text key={i} x={a.x} y={a.y} transform={`rotate(-90 ${a.x} ${a.y})`} textAnchor="middle" dominantBaseline="central" fontSize={a.fs} fontFamily={FONT_JP} fill={INK}>{a.t}</text>
        ))}
        {notes.map((n, i) => (
          <g key={i}>
            {n.a && <line x1={n.a[0]} y1={n.a[1]} x2={n.a[2]} y2={n.a[3]} stroke={INK} strokeWidth={1.1} markerEnd="url(#ah)" />}
            <text x={n.x} y={n.y} textAnchor={n.anchor ?? 'middle'} dominantBaseline="central" fontSize={n.fs ?? 15} fontFamily={FONT_JP} fill={INK}>{n.t}</text>
          </g>
        ))}
        <polygon points="578,642 600,642 589,662" fill="#666" stroke="#333" strokeWidth={1} />
        <Legend y0={228} />
        <Legend y0={423} />
        {dayNames.map((d, i) => (
          <g key={i}>
            <text x={captionX[i]} y={710} textAnchor="middle" dominantBaseline="central" fontSize={15} fontFamily={FONT_MIX} fill={INK}>{d}</text>
            <text x={captionX[i]} y={727} textAnchor="middle" dominantBaseline="central" fontSize={15} fontFamily={FONT_NUM} fill={INK}>{dayDates[i]}</text>
          </g>
        ))}
      </svg>
    </div>
  );
}
